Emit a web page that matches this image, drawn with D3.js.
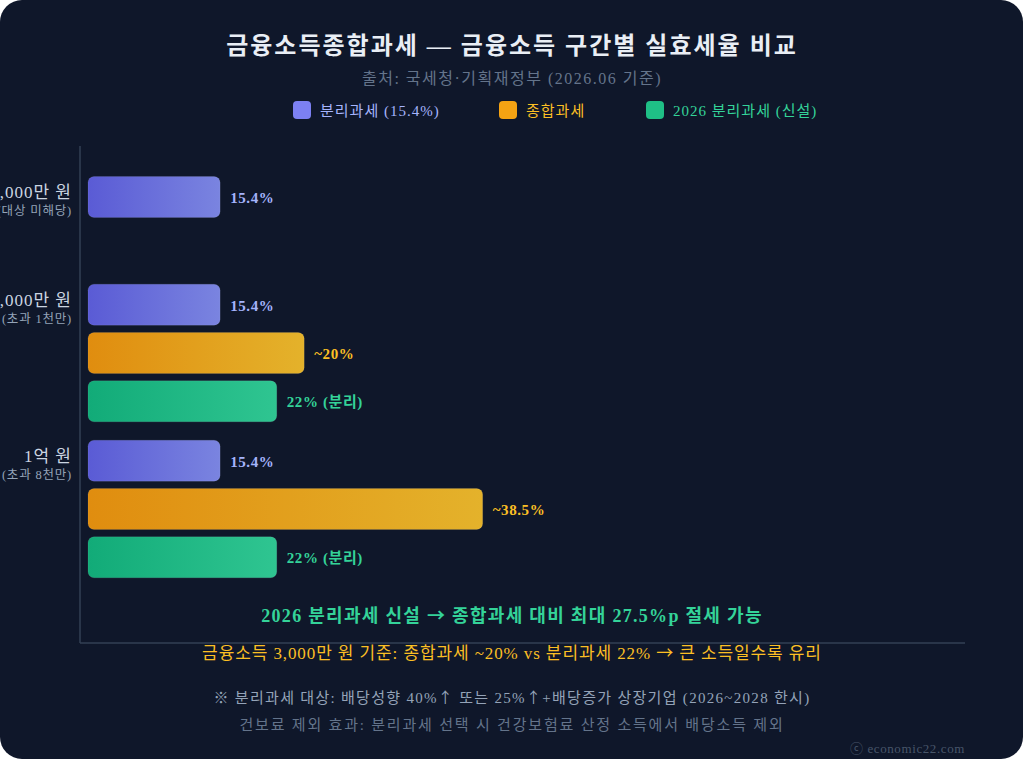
<!DOCTYPE html>
<html>
<head>
<meta charset="utf-8">
<script src="https://cdn.jsdelivr.net/npm/d3@7"></script>
<style>
  html, body { margin: 0; padding: 0; background: #ffffff; }
  #chart { width: 1024px; height: 761px; }
  text { font-family: "Liberation Serif", "Noto Sans CJK KR", serif; }
</style>
</head>
<body>
<div id="chart"></div>
<script>
// 구간 (그룹)
var groups = ["1,000만 원", "3,000만 원", "1억 원"];
var groupSubs = ["(대상 미해당)", "(초과 1천만)", "(초과 8천만)"];

// 시리즈
var seriesNames = ["분리과세 (15.4%)", "종합과세", "2026 분리과세 (신설)"];
var separateTax = [15.4, 15.4, 15.4];        // 기존 분리과세
var comprehensiveTax = [null, 25.2, 46.0];   // 종합과세 (막대 길이)
var newSeparateTax = [null, 22, 22];         // 2026 분리과세

// 막대 옆 라벨
var separateLabels = ["15.4%", "15.4%", "15.4%"];
var comprehensiveLabels = [null, "~20%", "~38.5%"];
var newSeparateLabels = [null, "22% (분리)", "22% (분리)"];

var notes = [
  "2026 분리과세 신설 → 종합과세 대비 최대 27.5%p 절세 가능",
  "금융소득 3,000만 원 기준: 종합과세 ~20% vs 분리과세 22% → 큰 소득일수록 유리",
  "※ 분리과세 대상: 배당성향 40%↑ 또는 25%↑+배당증가 상장기업 (2026~2028 한시)",
  "건보료 제외 효과: 분리과세 선택 시 건강보험료 산정 소득에서 배당소득 제외"
];

var W = 1024, H = 761;
var colors = [
  { from: "#5a5bd5", to: "#7a84e0", text: "#a5b4fc", sw: "#7c80f2" },
  { from: "#e08d0f", to: "#e4b22b", text: "#fbbf24", sw: "#f5a313" },
  { from: "#12ab78", to: "#2fc591", text: "#34d399", sw: "#1fbf86" }
];

var svg = d3.select("#chart").append("svg")
  .attr("width", W).attr("height", H);

var defs = svg.append("defs");
colors.forEach(function(c, i){
  var g = defs.append("linearGradient").attr("id", "grad" + i)
    .attr("x1", "0%").attr("x2", "100%").attr("y1", "0%").attr("y2", "0%");
  g.append("stop").attr("offset", "0%").attr("stop-color", c.from);
  g.append("stop").attr("offset", "100%").attr("stop-color", c.to);
});

// 화살표는 CJK 글꼴로 (크게 보이도록)
function richText(sel, str){
  str.split(/([→↑])/).forEach(function(part){
    if(part === "") return;
    var t = sel.append("tspan").text(part);
    if(part === "→" || part === "↑") t.style("font-family", "'Noto Sans CJK KR'");
  });
}

// 카드 배경
svg.append("rect")
  .attr("x", 0).attr("y", 0).attr("width", 1023).attr("height", 759)
  .attr("rx", 22).attr("fill", "#0f172a");

// 제목
svg.append("text")
  .attr("x", W/2).attr("y", 54)
  .attr("text-anchor", "middle")
  .attr("fill", "#e9eef5")
  .attr("font-size", 24).attr("font-weight", "bold")
  .attr("letter-spacing", 2)
  .text("금융소득종합과세 — 금융소득 구간별 실효세율 비교");

svg.append("text")
  .attr("x", W/2).attr("y", 84)
  .attr("text-anchor", "middle")
  .attr("fill", "#64748b")
  .attr("font-size", 16).attr("letter-spacing", 1.5)
  .text("출처: 국세청·기획재정부 (2026.06 기준)");

// 범례
var legendX = [293, 499, 646];
var legend = svg.append("g").attr("class", "legend");
seriesNames.forEach(function(name, i){
  var g = legend.append("g").attr("transform", "translate(" + legendX[i] + ",101)");
  g.append("rect").attr("width", 18).attr("height", 18).attr("rx", 4)
    .attr("fill", colors[i].sw);
  g.append("text").attr("x", 27).attr("y", 15)
    .attr("fill", colors[i].text).attr("font-size", 15)
    .attr("letter-spacing", 1)
    .text(name);
});

// 스케일
var x = d3.scaleLinear().domain([0, 50]).range([88, 517]);
var y = d3.scaleBand().domain(groups).range([119, 587]);
var inner = d3.scaleBand().domain([0, 1, 2]).range([0, 137.6]).paddingInner(0.15);

// 축
svg.append("line")
  .attr("x1", 80).attr("x2", 80).attr("y1", 146).attr("y2", 643)
  .attr("stroke", "#334155").attr("stroke-width", 1.5);
svg.append("line")
  .attr("x1", 80).attr("x2", 965).attr("y1", 643).attr("y2", 643)
  .attr("stroke", "#334155").attr("stroke-width", 1.5);

var rows = groups.map(function(g, i){
  var vals = [
    { s: 0, v: separateTax[i], label: separateLabels[i] },
    { s: 1, v: comprehensiveTax[i], label: comprehensiveLabels[i] },
    { s: 2, v: newSeparateTax[i], label: newSeparateLabels[i] }
  ].filter(function(d){ return d.v != null; });
  return { group: g, sub: groupSubs[i], bars: vals };
});

var groupG = svg.selectAll(".group").data(rows).enter().append("g")
  .attr("class", "group")
  .attr("transform", function(d){
    var n = d.bars.length;
    var span = inner.step() * (n - 1) + inner.bandwidth();
    var top = y(d.group) + y.bandwidth()/2 - span/2;
    return "translate(0," + top + ")";
  });

// 구간 라벨
groupG.append("text")
  .attr("x", 72).attr("y", 22)
  .attr("text-anchor", "end")
  .attr("fill", "#cbd5e1").attr("font-size", 17)
  .attr("letter-spacing", 1)
  .text(function(d){ return d.group; });
groupG.append("text")
  .attr("x", 72).attr("y", 39)
  .attr("text-anchor", "end")
  .attr("fill", "#94a3b8").attr("font-size", 12.5)
  .attr("letter-spacing", 0.8)
  .text(function(d){ return d.sub; });

var bar = groupG.selectAll(".bar").data(function(d){ return d.bars; }).enter()
  .append("g").attr("class", "bar")
  .attr("transform", function(d, j){ return "translate(0," + inner(j) + ")"; });

bar.append("rect")
  .attr("x", x(0))
  .attr("width", function(d){ return x(d.v) - x(0); })
  .attr("height", inner.bandwidth())
  .attr("rx", 6)
  .attr("fill", function(d){ return "url(#grad" + d.s + ")"; })
  .attr("stroke", "rgba(255,255,255,0.08)");

bar.append("text")
  .attr("x", function(d){ return x(d.v) + 10; })
  .attr("y", inner.bandwidth()/2 + 6)
  .attr("fill", function(d){ return colors[d.s].text; })
  .attr("font-size", 15).attr("font-weight", "bold")
  .attr("letter-spacing", 0.6)
  .text(function(d){ return d.label; });

// 하단 주석
var noteStyle = [
  { y: 622, size: 18, color: "#34d399", weight: "bold", ls: 1.3 },
  { y: 659, size: 17, color: "#fbbf24", weight: "normal", ls: 0.9 },
  { y: 703, size: 15, color: "#94a3b8", weight: "normal", ls: 1.3 },
  { y: 730, size: 15, color: "#64748b", weight: "normal", ls: 1.8 }
];
notes.forEach(function(t, i){
  var el = svg.append("text")
    .attr("x", W/2).attr("y", noteStyle[i].y)
    .attr("text-anchor", "middle")
    .attr("fill", noteStyle[i].color)
    .attr("font-size", noteStyle[i].size)
    .attr("font-weight", noteStyle[i].weight)
    .attr("letter-spacing", noteStyle[i].ls);
  richText(el, t);
});

svg.append("text")
  .attr("x", 965).attr("y", 753)
  .attr("text-anchor", "end")
  .attr("fill", "#475569").attr("font-size", 13)
  .attr("letter-spacing", 0.6)
  .text("ⓒ economic22.com");
</script>
</body>
</html>
